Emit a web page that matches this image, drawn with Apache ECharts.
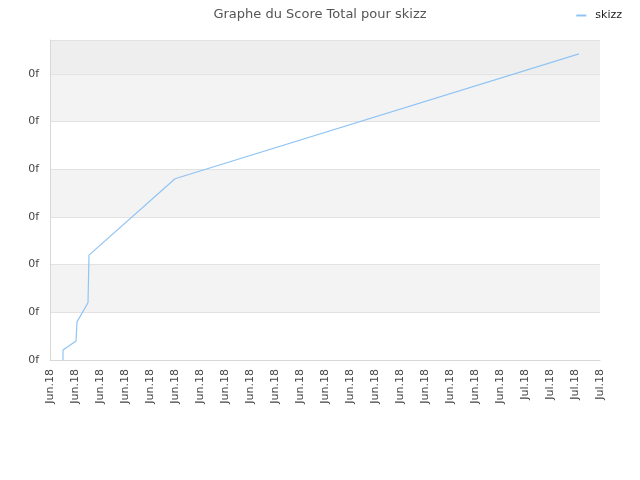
<!DOCTYPE html>
<html><head><meta charset="utf-8">
<script src="https://cdn.jsdelivr.net/npm/echarts@6/dist/echarts.min.js"></script>
<style>html,body{margin:0;padding:0;background:#fff}#c{width:640px;height:480px}</style>
</head><body><div id="c"></div>
<script>
var tickLabels = ['Jun.18','Jun.18','Jun.18','Jun.18','Jun.18','Jun.18','Jun.18','Jun.18','Jun.18','Jun.18','Jun.18','Jun.18','Jun.18','Jun.18','Jun.18','Jun.18','Jun.18','Jun.18','Jun.18','Jul.18','Jul.18','Jul.18','Jul.18'];
var xValues = [0.52, 0.52, 1.04, 1.08, 1.52, 1.56, 5.0, 21.16];
var yValues = [0, 0.21, 0.40, 0.80, 1.20, 2.20, 3.80, 6.42];
var seriesName = 'skizz';
var titleText = 'Graphe du Score Total pour skizz';

var data = xValues.map(function(x, i){ return [x, yValues[i]]; });
var chart = echarts.init(document.getElementById('c'));
chart.setOption({
  animation: false,
  textStyle: {fontFamily: 'DejaVu Sans'},
  title: {text: titleText, left: 'center', top: 3,
    textStyle: {fontSize: 13, fontWeight: 'normal', color: '#555', fontFamily: 'DejaVu Sans'}},
  legend: {right: 13, top: 5, itemWidth: 10, itemHeight: 2, itemGap: 5,
    icon: 'rect',
    textStyle: {fontSize: 11, color: '#222', fontFamily: 'DejaVu Sans', padding: [0, 0, 0, 4]},
    data: [seriesName]},
  grid: {left: 50, right: 40, top: 40, bottom: 120, containLabel: false},
  xAxis: {type: 'value', min: 0, max: 22, interval: 1,
    axisLine: {show: true, lineStyle: {color: '#d8d8d8'}},
    axisTick: {show: false},
    splitLine: {show: false},
    axisLabel: {rotate: 90, fontSize: 11, color: '#444', margin: 9,
      formatter: function(v){ return tickLabels[Math.round(v)] || ''; }}},
  yAxis: {type: 'value', min: 0, max: 6.71, interval: 1,
    axisLine: {show: true, lineStyle: {color: '#d8d8d8'}},
    axisTick: {show: false},
    splitLine: {show: true, lineStyle: {color: '#e2e2e2'}},
    splitArea: {show: true, areaStyle: {color: ['#ffffff','#f3f3f3','#ffffff','#f3f3f3','#ffffff','#f3f3f3','#eeeeee']}},
    axisLabel: {fontSize: 11, color: '#444', margin: 11, showMaxLabel: false,
      formatter: function(){ return '0f'; }}},
  series: [{name: seriesName, type: 'line', data: data, showSymbol: false,
    lineStyle: {color: '#90c4f4', width: 1.2}, itemStyle: {color: '#90c4f4'}}]
});
</script></body></html>
